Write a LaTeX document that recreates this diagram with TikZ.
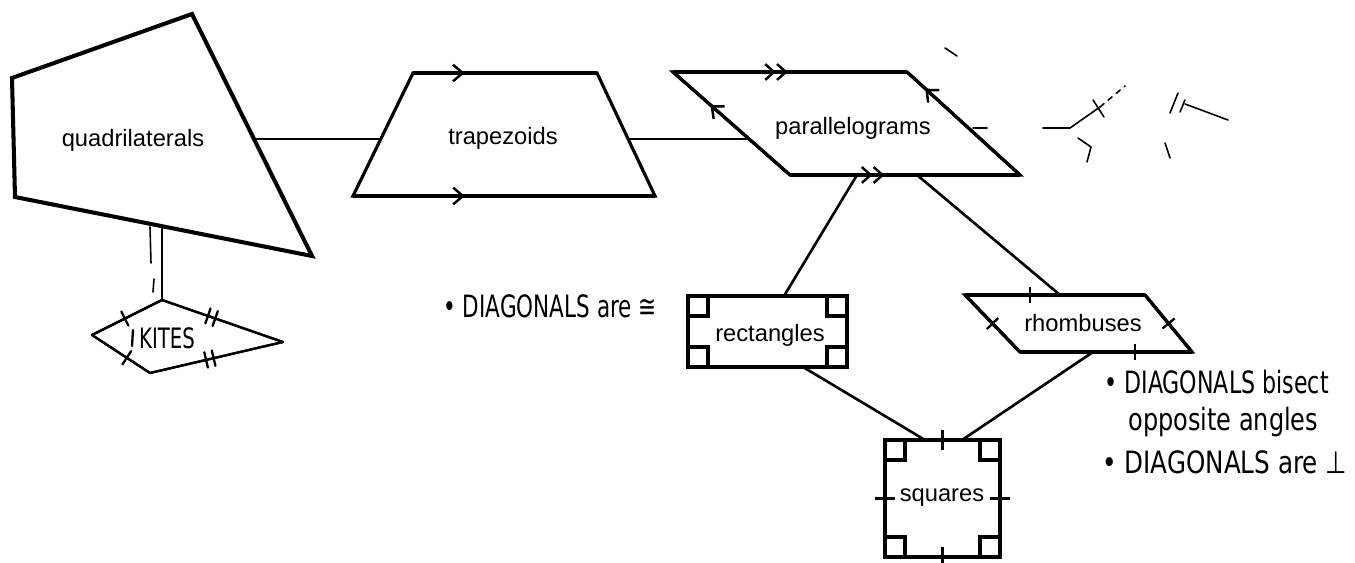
\documentclass[tikz,border=0pt]{standalone}
\usepackage{fontspec}
\usepackage{graphicx}
\setmainfont{Liberation Sans}
\newfontfamily\handfont{DejaVu Sans}
\usetikzlibrary{decorations.markings,arrows.meta}
\newcommand\handtxt[2][0.7]{\scalebox{#1}[1]{#2}}
\tikzset{
  outline/.style={line width=2pt, line join=miter},
  conn/.style={line width=1.2pt},
  lbl/.style={font=\fontsize{13.5}{16}\selectfont, inner sep=0pt},
  note/.style={font=\handfont\fontsize{17.5}{20}\selectfont, inner sep=0pt, anchor=west},
  ink/.style={line width=1.3pt, line cap=round, line join=round},
  faint/.style={line width=0.9pt, line cap=round, line join=round},
  tickmark/.style={postaction={decorate, decoration={markings, mark=at position #1 with {\draw[line width=1.3pt] (0,-4.5pt)--(0,4.5pt);}}}},
  longtick/.style={postaction={decorate, decoration={markings, mark=at position #1 with {\draw[line width=1.3pt] (0,-5.5pt)--(0,5.5pt);}}}},
  dtickmark/.style={postaction={decorate, decoration={markings, mark=at position #1 with {\draw[line width=1.3pt] (-2.2pt,-4.5pt)--(-2.2pt,4.5pt) (2.2pt,-4.5pt)--(2.2pt,4.5pt);}}}},
  parone/.style={postaction={decorate, decoration={markings, mark=at position #1 with {\arrow{Straight Barb[length=5.5pt,width=9.5pt,line width=1.4pt]}}}}},
  partwo/.style={postaction={decorate, decoration={markings, mark=at position #1 with {\arrow{Straight Barb[length=5pt,width=9pt,line width=1.4pt] Straight Barb[length=5pt,width=9pt,line width=1.4pt]}}}}},
}
\begin{document}
\begin{tikzpicture}[x=0.02cm,y=-0.02cm]
\useasboundingbox (0,0) rectangle (1355,563);

% ---------- shape corners ----------
\coordinate (q1) at (12,78);   \coordinate (q2) at (192,14);
\coordinate (q3) at (312,256); \coordinate (q4) at (15,197);
\coordinate (t1) at (413,73);  \coordinate (t2) at (597,73);
\coordinate (t3) at (655,196); \coordinate (t4) at (353,196);
\coordinate (p1) at (673,72);  \coordinate (p2) at (907,72);
\coordinate (p3) at (1020,175);\coordinate (p4) at (790,175);
\coordinate (r1) at (965,295); \coordinate (r2) at (1145,295);
\coordinate (r3) at (1192,352);\coordinate (r4) at (1020,352);
\coordinate (k1) at (162,300); \coordinate (k2) at (283,342);
\coordinate (k3) at (150,373); \coordinate (k4) at (92,335);

% ---------- connector ends ----------
\coordinate (quad-e) at (254,139);  \coordinate (trap-w) at (381,139);
\coordinate (trap-e) at (628,139);  \coordinate (para-w) at (749,139);
\coordinate (para-s1) at (857,175); \coordinate (rect-n) at (784,296);
\coordinate (para-s2) at (917,175); \coordinate (rhomb-n) at (1060,295);
\coordinate (rect-s) at (803,367);  \coordinate (sq-n1) at (925,440);
\coordinate (rhomb-s) at (1093,352);\coordinate (sq-n2) at (962,440);
\coordinate (quad-s) at (162,226);

% ---------- connectors ----------
\draw[conn] (quad-e) -- (trap-w);
\draw[conn] (trap-e) -- (para-w);
\draw[conn, line width=1.5pt] (para-s1) -- (rect-n);
\draw[conn, line width=1.5pt] (para-s2) -- (rhomb-n);
\draw[conn, line width=1.5pt] (rect-s) -- (sq-n1);
\draw[conn, line width=1.5pt] (rhomb-s) -- (sq-n2);
\draw[ink] (quad-s) -- (k1);
\draw[faint] (150,227) -- (151,263);
\draw[faint] (154,279) -- (153,292);

% ---------- quadrilateral ----------
\draw[outline, line width=2.3pt] (q1) -- (q2) -- (q3) -- (q4) -- cycle;
\node[lbl] (quad) at (133,140) {quadrilaterals};

% ---------- trapezoid ----------
\draw[outline, line width=1.8pt] (t1) -- (t2) -- (t3) -- (t4) -- cycle;
\draw[outline, line width=1.8pt, parone=0.28] (t1) -- (t2);
\draw[outline, line width=1.8pt, parone=0.37] (t4) -- (t3);
\node[lbl] (trap) at (503,138) {trapezoids};

% ---------- parallelogram ----------
\draw[outline, line width=1.8pt] (p1) -- (p2) -- (p3) -- (p4) -- cycle;
\draw[outline, line width=1.8pt, partwo=0.49] (p1) -- (p2);
\draw[outline, line width=1.8pt, partwo=0.41] (p4) -- (p3);
\draw[outline, line width=1.8pt, parone=0.68] (p4) -- (p1);
\draw[outline, line width=1.8pt, parone=0.84] (p3) -- (p2);
\node[lbl] (para) at (853,128) {parallelograms};

% ---------- rectangles ----------
\draw[outline, line width=2pt, fill=white] (688,296) rectangle (847,367);
\foreach \cx/\cy in {688/296, 827/296, 688/347, 827/347}
  \draw[line width=1.8pt] (\cx,\cy) rectangle ++(20,20);
\node[lbl, fill=white] (rect) at (770,335) {rectangles};

% ---------- rhombuses ----------
\draw[outline, line width=1.8pt, fill=white] (r1) -- (r2) -- (r3) -- (r4) -- cycle;
\draw[outline, line width=1.8pt, tickmark=0.36] (r1) -- (r2);
\draw[outline, line width=1.8pt, tickmark=0.67] (r4) -- (r3);
\draw[outline, line width=1.8pt, tickmark=0.5] (r4) -- (r1);
\draw[outline, line width=1.8pt, tickmark=0.5] (r3) -- (r2);
\node[lbl] (rhomb) at (1083,323) {rhombuses};

% ---------- squares ----------
\coordinate (s1) at (885,440); \coordinate (s2) at (1000,440);
\coordinate (s3) at (1000,557);\coordinate (s4) at (885,557);
\draw[outline, line width=2pt] (s1) -- (s2) -- (s3) -- (s4) -- cycle;
\draw[line width=1.8pt, longtick=0.5] (s1) -- (s2);
\draw[line width=1.8pt, longtick=0.5] (s2) -- (s3);
\draw[line width=1.8pt, longtick=0.5] (s3) -- (s4);
\draw[line width=1.8pt, longtick=0.5] (s4) -- (s1);
\foreach \cx/\cy in {885/440, 980/440, 885/537, 980/537}
  \draw[line width=1.8pt] (\cx,\cy) rectangle ++(20,20);
\node[lbl] (sq) at (942,498) {squares};

% ---------- kite (hand drawn) ----------
\draw[ink] (k1) -- (k2) -- (k3) -- (k4) -- cycle;
\draw[ink, tickmark=0.47] (k4) -- (k1);
\draw[ink, tickmark=0.6] (k4) -- (k3);
\draw[ink, dtickmark=0.41] (k1) -- (k2);
\draw[ink, dtickmark=0.55] (k2) -- (k3);
\draw[ink] (133,330) -- (132,346);
\node[font=\handfont\fontsize{16}{18}\selectfont, inner sep=0pt] (kites) at (167,338) {\handtxt{KITES}};

% ---------- handwritten notes ----------
\node[note] (note1) at (443,306) {\handtxt{• DIAGONALS are ≅}};
\node[note] (note2) at (1104,382) {\handtxt[0.72]{• DIAGONALS bisect}};
\node[note] (note3) at (1128,422) {\handtxt[0.78]{opposite angles}};
\node[note] (note4) at (1102,462) {\handtxt[0.8]{• DIAGONALS are ⊥}};

% ---------- sketchy marks top right ----------
\draw[faint] (973,128) -- (987,128);
\draw[faint] (1043,128) -- (1070,128) -- (1100,107);
\draw[faint, dashed] (1100,107) -- (1125,86);
\draw[faint] (1093,100) -- (1104,117);
\draw[faint] (1078,138) -- (1091,147) -- (1087,162);
\draw[faint] (1185,104) -- (1228,120);
\draw[faint] (1170,113) -- (1178,93);
\draw[faint] (1180,112) -- (1185,100);
\draw[faint] (1165,143) -- (1170,158);
\draw[faint] (945,48) -- (957,56);
\end{tikzpicture}
\end{document}
